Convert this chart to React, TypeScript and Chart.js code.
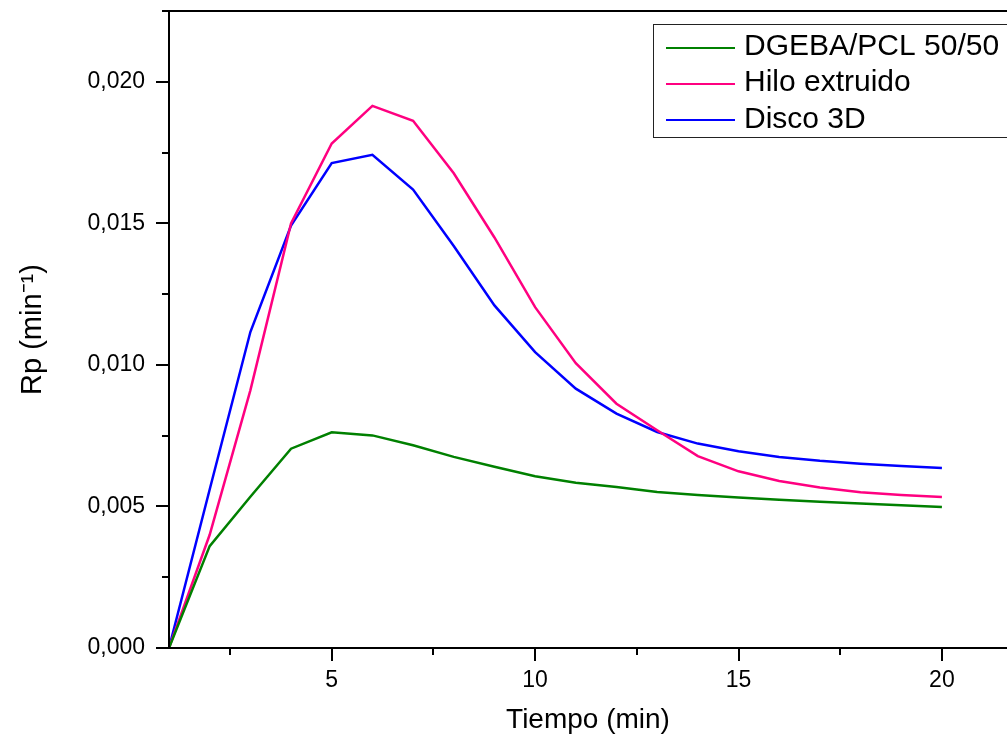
import React, { useEffect, useRef } from 'react';
import { Chart, registerables } from 'chart.js';

Chart.register(...registerables);

// ---- data ----
const tiempo = [1, 2, 3, 4, 5, 6, 7, 8, 9, 10, 11, 12, 13, 14, 15, 16, 17, 18, 19, 20];
const dgebaPcl = [0, 0.0036, 0.00534, 0.00704, 0.00762, 0.00751, 0.00716, 0.00675, 0.0064, 0.00607, 0.00584, 0.00569, 0.00551, 0.0054, 0.00532, 0.00524, 0.00517, 0.0051, 0.00504, 0.00498];
const hiloExtruido = [0, 0.0040, 0.0091, 0.0150, 0.01782, 0.01915, 0.01862, 0.01677, 0.0145, 0.01204, 0.01006, 0.00863, 0.00769, 0.00678, 0.00624, 0.0059, 0.00567, 0.0055, 0.0054, 0.00533];
const disco3D = [0, 0.0056, 0.01116, 0.01492, 0.01713, 0.01742, 0.01619, 0.0142, 0.0121, 0.01045, 0.00916, 0.00828, 0.00763, 0.00722, 0.00695, 0.00675, 0.00661, 0.00651, 0.00643, 0.00636];

const seriesLabels = ['DGEBA/PCL 50/50', 'Hilo extruido', 'Disco 3D'];
const seriesColors = ['#008000', '#FF0080', '#0000FF'];

const xTicks = [2.5, 5, 7.5, 10, 12.5, 15, 17.5, 20];
const xTickLabels = ['', '5', '', '10', '', '15', '', '20'];
const yTicks = [0, 0.0025, 0.005, 0.0075, 0.01, 0.0125, 0.015, 0.0175, 0.02, 0.0225];
const yTickLabels = ['0,000', '', '0,005', '', '0,010', '', '0,015', '', '0,020', ''];

const xTitle = 'Tiempo (min)';
const yTitle = 'Rp (min\u207B\u00B9)';

const FONT = "'Liberation Sans', Arial, sans-serif";

const framePlugin = {
  id: 'originFrame',
  afterDatasetsDraw(chart: any) {
    const { ctx, chartArea } = chart;
    const { left, right, top, bottom } = chartArea;
    ctx.save();
    ctx.strokeStyle = '#000';
    ctx.lineWidth = 2;
    ctx.lineCap = 'butt';
    ctx.beginPath();
    ctx.moveTo(left, top - 1);
    ctx.lineTo(left, bottom + 1);
    ctx.moveTo(left - 1, bottom);
    ctx.lineTo(right, bottom);
    ctx.moveTo(left - 1, top);
    ctx.lineTo(right, top);
    const xs = chart.scales.x;
    xs.ticks.forEach((t: any) => {
      const px = Math.round(xs.getPixelForValue(t.value));
      const len = t.label !== '' ? 13 : 7;
      ctx.moveTo(px, bottom);
      ctx.lineTo(px, bottom + len);
    });
    const ys = chart.scales.y;
    ys.ticks.forEach((t: any) => {
      const py = Math.round(ys.getPixelForValue(t.value));
      const len = t.label !== '' ? 13 : 7;
      ctx.moveTo(left, py);
      ctx.lineTo(left - len, py);
    });
    ctx.stroke();
    ctx.restore();
  },
};

const legendPlugin = {
  id: 'originLegend',
  afterDraw(chart: any) {
    const { ctx } = chart;
    const boxLeft = 653;
    const boxTop = 24;
    const boxBottom = 137;
    const lineY = [48, 84, 120];
    const textBase = [55, 91, 128];
    ctx.save();
    ctx.strokeStyle = '#222';
    ctx.lineWidth = 1;
    ctx.strokeRect(boxLeft + 0.5, boxTop + 0.5, 500, boxBottom - boxTop);
    chart.data.datasets.forEach((ds: any, i: number) => {
      ctx.strokeStyle = ds.borderColor;
      ctx.lineWidth = 2;
      ctx.beginPath();
      ctx.moveTo(666, lineY[i]);
      ctx.lineTo(735, lineY[i]);
      ctx.stroke();
      ctx.fillStyle = '#000';
      ctx.font = `30px ${FONT}`;
      ctx.textAlign = 'left';
      ctx.textBaseline = 'alphabetic';
      ctx.fillText(ds.label, 744, textBase[i]);
    });
    ctx.restore();
  },
};

export default function App() {
  const ref = useRef<HTMLCanvasElement | null>(null);
  useEffect(() => {
    if (!ref.current) return;
    const datasets = [dgebaPcl, hiloExtruido, disco3D].map((vals, i) => ({
      label: seriesLabels[i],
      data: tiempo.map((t, k) => ({ x: t, y: vals[k] })),
      borderColor: seriesColors[i],
      backgroundColor: seriesColors[i],
      borderWidth: 2.5,
      pointRadius: 0,
      tension: 0,
      fill: false,
    }));
    const chart = new Chart(ref.current, {
      type: 'line',
      data: { datasets },
      plugins: [framePlugin, legendPlugin],
      options: {
        animation: false,
        responsive: false,
        maintainAspectRatio: false,
        layout: { padding: { top: 11, right: 0, bottom: 0, left: 0 } },
        plugins: { legend: { display: false }, tooltip: { enabled: false } },
        scales: {
          x: {
            type: 'linear',
            min: 1,
            max: 21.6,
            afterBuildTicks: (s: any) => {
              s.ticks = xTicks.map((v) => ({ value: v }));
            },
            afterFit: (s: any) => {
              s.height = 97;
              s.paddingLeft = 0;
              s.paddingRight = 0;
            },
            ticks: {
              autoSkip: false,
              maxRotation: 0,
              padding: 19,
              color: '#000',
              font: { family: FONT, size: 23 },
              callback: (v: any) => {
                const idx = xTicks.indexOf(Number(v));
                return idx >= 0 ? xTickLabels[idx] : '';
              },
            },
            grid: { display: false, drawTicks: false },
            border: { display: false },
            title: {
              display: true,
              text: xTitle,
              color: '#000',
              font: { family: FONT, size: 28 },
              padding: { top: 0, bottom: 8 },
            },
          },
          y: {
            type: 'linear',
            min: 0,
            max: 0.0225,
            afterBuildTicks: (s: any) => {
              s.ticks = yTicks.map((v) => ({ value: v }));
            },
            afterFit: (s: any) => {
              s.width = 169;
              s.paddingTop = 0;
              s.paddingBottom = 0;
            },
            ticks: {
              autoSkip: false,
              padding: 24,
              color: '#000',
              font: { family: FONT, size: 23 },
              callback: (v: any) => {
                const idx = yTicks.findIndex((t) => Math.abs(t - Number(v)) < 1e-9);
                return idx >= 0 ? yTickLabels[idx] : '';
              },
            },
            grid: { display: false, drawTicks: false },
            border: { display: false },
            title: {
              display: true,
              text: yTitle,
              color: '#000',
              font: { family: FONT, size: 29 },
              padding: { top: 16, bottom: 0 },
            },
          },
        },
      },
    } as any);
    return () => chart.destroy();
  }, []);

  return (
    <div style={{ position: 'fixed', left: 0, top: 0, width: 1007, height: 745, background: '#fff' }}>
      <canvas ref={ref} width={1007} height={745} style={{ display: 'block' }} />
    </div>
  );
}
